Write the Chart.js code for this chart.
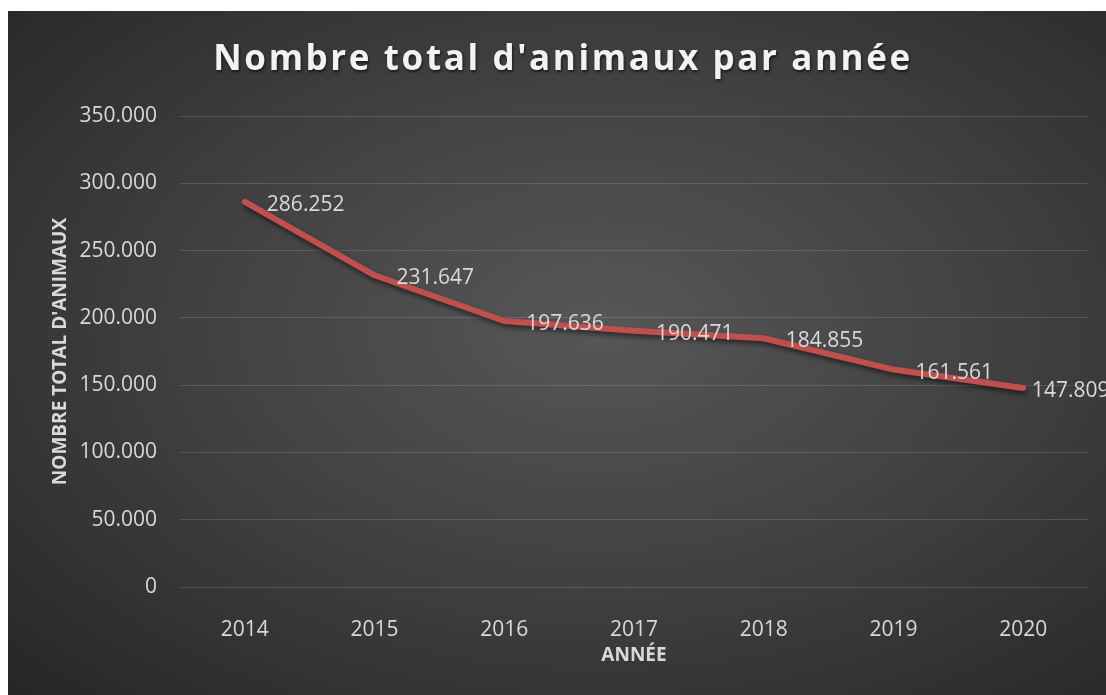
<!DOCTYPE html>
<html>
<head>
<meta charset="utf-8">
<script src="https://cdn.jsdelivr.net/npm/chart.js@4"></script>
<style>
  html, body { margin: 0; padding: 0; background: #ffffff; }
  #wrap {
    position: absolute; left: 8px; top: 11px; width: 1098px; height: 684px;
    background: radial-gradient(ellipse farthest-corner at 54% 46%, #575757 0%, #404040 50%, #262626 100%);
  }
</style>
</head>
<body>
<div id="wrap"><canvas id="chart" width="1098" height="684"></canvas></div>
<script>
// Data
const years = ['2014', '2015', '2016', '2017', '2018', '2019', '2020'];
const totals = [286252, 231647, 197636, 190471, 184855, 161561, 147809];
const yTicks = [0, 50000, 100000, 150000, 200000, 250000, 300000, 350000];

const chartTitle = "Nombre total d'animaux par année";
const textColor = '#d9d9d9';
const fontFamily = "'Open Sans', sans-serif";

function formatNumber(v) {
    return String(v).replace(/\B(?=(\d{3})+(?!\d))/g, '.');
}

// Title with letter spacing (not supported by the built-in title)
const spacedTitle = {
    id: 'spacedTitle',
    afterDraw(chart) {
        const ctx = chart.ctx;
        ctx.save();
        ctx.font = "bold 35px " + fontFamily;
        ctx.letterSpacing = '2.6px';
        ctx.fillStyle = '#f2f2f2';
        ctx.textAlign = 'center';
        ctx.textBaseline = 'middle';
        ctx.shadowColor = 'rgba(0,0,0,0.6)';
        ctx.shadowOffsetX = 1;
        ctx.shadowOffsetY = 2;
        ctx.shadowBlur = 3;
        ctx.fillText(chartTitle, chart.width / 2 + 6, 49);
        ctx.restore();
    }
};

// Shadow under the line
const lineShadow = {
    id: 'lineShadow',
    beforeDatasetDraw(chart) {
        const ctx = chart.ctx;
        ctx.save();
        ctx.shadowColor = 'rgba(0,0,0,0.55)';
        ctx.shadowOffsetX = 1;
        ctx.shadowOffsetY = 3;
        ctx.shadowBlur = 5;
    },
    afterDatasetDraw(chart) {
        chart.ctx.restore();
    }
};

// Value labels to the right of each point, kept from running far past the plot
const valueLabels = {
    id: 'valueLabels',
    afterDatasetsDraw(chart) {
        const ctx = chart.ctx;
        const meta = chart.getDatasetMeta(0);
        const maxX = chart.chartArea.right - 56;
        ctx.save();
        ctx.font = "21px " + fontFamily;
        ctx.fillStyle = textColor;
        ctx.textAlign = 'left';
        ctx.textBaseline = 'middle';
        meta.data.forEach((pt, i) => {
            ctx.fillText(formatNumber(totals[i]), Math.min(pt.x + 22, maxX), pt.y + 3);
        });
        ctx.restore();
    }
};

new Chart(document.getElementById('chart'), {
    type: 'line',
    data: {
        labels: years,
        datasets: [{
            data: totals,
            borderColor: '#c0504d',
            borderWidth: 6,
            borderCapStyle: 'round',
            borderJoinStyle: 'round',
            pointRadius: 0,
            tension: 0,
            fill: false
        }]
    },
    options: {
        responsive: false,
        animation: false,
        layout: { padding: { top: 105, right: 18, left: 0, bottom: 0 } },
        plugins: {
            legend: { display: false },
            tooltip: { enabled: false }
        },
        scales: {
            x: {
                offset: true,
                grid: { display: false },
                border: { display: false },
                ticks: { color: textColor, font: { family: fontFamily, size: 21 }, padding: 22 },
                title: {
                    display: true, text: 'ANNÉE', color: textColor,
                    font: { family: fontFamily, size: 19, weight: 'bold' },
                    padding: { top: 0, bottom: 28 }
                },
                afterFit(scale) { scale.height = 108; }
            },
            y: {
                min: 0,
                max: 350000,
                afterBuildTicks(scale) { scale.ticks = yTicks.map(v => ({ value: v })); },
                grid: { color: 'rgba(255,255,255,0.14)', lineWidth: 1, drawTicks: false },
                border: { display: false },
                ticks: {
                    color: textColor, font: { family: fontFamily, size: 21 }, padding: 23,
                    callback: v => formatNumber(v)
                },
                title: {
                    display: true, text: "NOMBRE TOTAL D'ANIMAUX", color: textColor,
                    font: { family: fontFamily, size: 19, weight: 'bold' },
                    padding: { top: 41, bottom: 0 }
                },
                afterFit(scale) { scale.width = 172; }
            }
        }
    },
    plugins: [spacedTitle, lineShadow, valueLabels]
});
</script>
</body>
</html>
